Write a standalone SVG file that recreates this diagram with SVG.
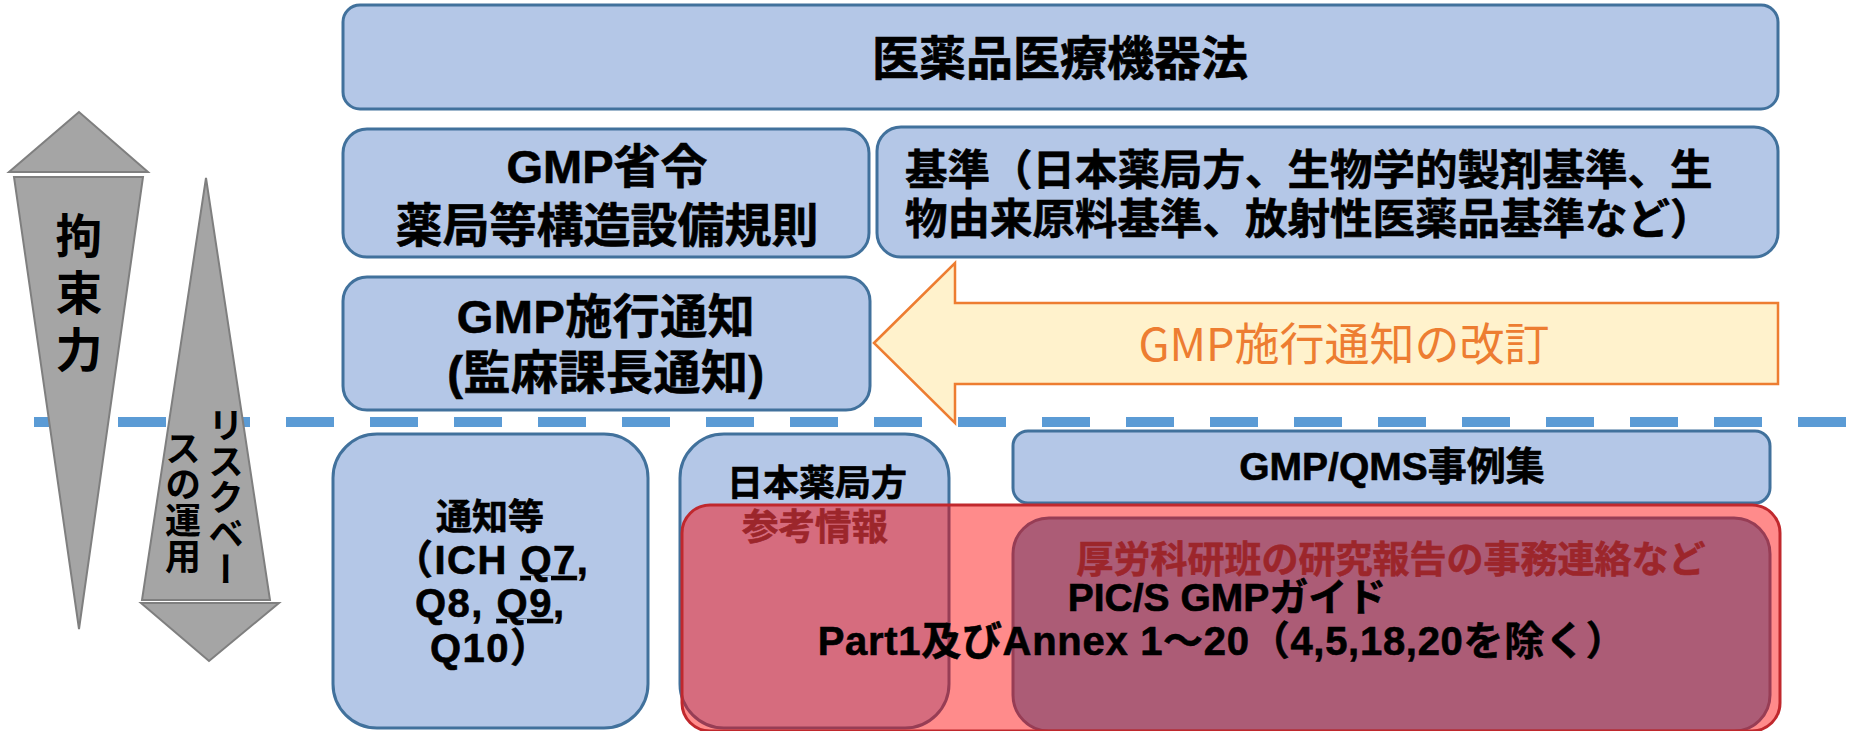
<svg xmlns="http://www.w3.org/2000/svg" width="1861" height="731" viewBox="0 0 1861 731">
<style>
.box{fill:#B4C7E7;stroke:#41719C;stroke-width:3}
.gray{fill:#A5A5A5;stroke:#7F7F7F;stroke-width:2}
.t{font-family:"Liberation Sans","Noto Sans CJK JP",sans-serif;font-weight:bold;fill:#000;stroke:#000;stroke-width:0.6}
.c{text-anchor:middle}
.v{writing-mode:vertical-rl;font-family:"Noto Sans CJK JP",sans-serif;font-weight:bold;fill:#000}
.dr{fill:#4A4650;stroke:#4A4650}
</style>
<rect width="1861" height="731" fill="#FFFFFF"/>
<g id="connectors">
<line x1="34" y1="422" x2="1861" y2="422" stroke="#5B9BD5" stroke-width="10" stroke-dasharray="48 36"/>
</g>
<g id="arrow-koosoku">
<polygon class="gray" points="79,112 9,172 148,172"/>
<polygon class="gray" points="14,177 143,177 79,629"/>
<text class="v" x="79" y="212" font-size="47" letter-spacing="10">拘束力</text>
</g>
<g id="arrow-risk">
<polygon class="gray" points="206,178 270,600 142,600"/>
<polygon class="gray" points="141,603 279,603 209,661"/>
<text class="v" x="226" y="407" font-size="36">リスクベー</text>
<text class="v" x="183" y="430" font-size="36">スの運用</text>
</g>
<g id="node-law">
<rect class="box" x="343" y="5" width="1435" height="104" rx="17"/>
<text class="t c" x="1060" y="75" font-size="47">医薬品医療機器法</text>
</g>
<g id="node-gmp-ordinance">
<rect class="box" x="343" y="129" width="526" height="128" rx="24"/>
<text class="t c" x="607" y="183" font-size="47">GMP省令</text>
<text class="t c" x="607" y="242" font-size="47">薬局等構造設備規則</text>
</g>
<g id="node-standards">
<rect class="box" x="877" y="127" width="901" height="130" rx="24"/>
<text class="t" x="905" y="185" font-size="42.5">基準（日本薬局方、生物学的製剤基準、生</text>
<text class="t" x="905" y="234" font-size="42.5">物由来原料基準、放射性医薬品基準など）</text>
</g>
<g id="node-gmp-notice">
<rect class="box" x="343" y="277" width="527" height="133" rx="24"/>
<text class="t c" x="606" y="333" font-size="47" letter-spacing="0.5">GMP施行通知</text>
<text class="t c" x="606" y="389" font-size="47" letter-spacing="0.5">(監麻課長通知)</text>
</g>
<g id="node-revision">
<polygon points="874,343 955,263 955,303 1778,303 1778,384 955,384 955,423" fill="#FFF2CC" stroke="#ED7D31" stroke-width="2.5"/>
<text x="1344" y="361" font-family="'Noto Sans CJK JP',sans-serif" font-size="45" fill="#ED7D31" text-anchor="middle">GMP施行通知の改訂</text>
</g>
<g id="node-notices">
<rect class="box" x="333" y="434" width="315" height="294" rx="44"/>
<text class="t c" x="490" y="530" font-size="36">通知等</text>
<text class="t" x="393" y="574" font-size="40" letter-spacing="1.5">（ICH <tspan text-decoration="underline">Q7</tspan>,</text>
<text class="t" x="415" y="617" font-size="40" letter-spacing="1.5">Q8, <tspan text-decoration="underline">Q9</tspan>,</text>
<text class="t" x="430" y="662" font-size="40" letter-spacing="1.5">Q10）</text>
</g>
<g id="node-jp">
<rect class="box" x="680" y="434" width="269" height="294" rx="44"/>
<text class="t c" x="817" y="496" font-size="36">日本薬局方</text>
<text class="t c dr" x="815" y="540" font-size="36.5">参考情報</text>
</g>
<g id="node-qms">
<rect class="box" x="1013" y="431" width="757" height="72" rx="15"/>
<text class="t c" x="1392" y="480" font-size="39">GMP/QMS事例集</text>
</g>
<g id="node-research">
<rect x="1013" y="518" width="757" height="213" rx="36" fill="#68A9D9" stroke="#41719C" stroke-width="3"/>
<text class="t c dr" x="1391" y="573" font-size="37">厚労科研班の研究報告の事務連絡など</text>
</g>
<g id="node-pics">
<rect x="682" y="505" width="1098" height="226" rx="28" fill="#FF0000" fill-opacity="0.455" stroke="#C0282D" stroke-width="3"/>
<text class="t c" x="1227" y="611" font-size="39">PIC/S GMPガイド</text>
<text class="t c" x="1222" y="655" font-size="40" letter-spacing="0.7">Part1及びAnnex 1～20（4,5,18,20を除く）</text>
</g>
</svg>
